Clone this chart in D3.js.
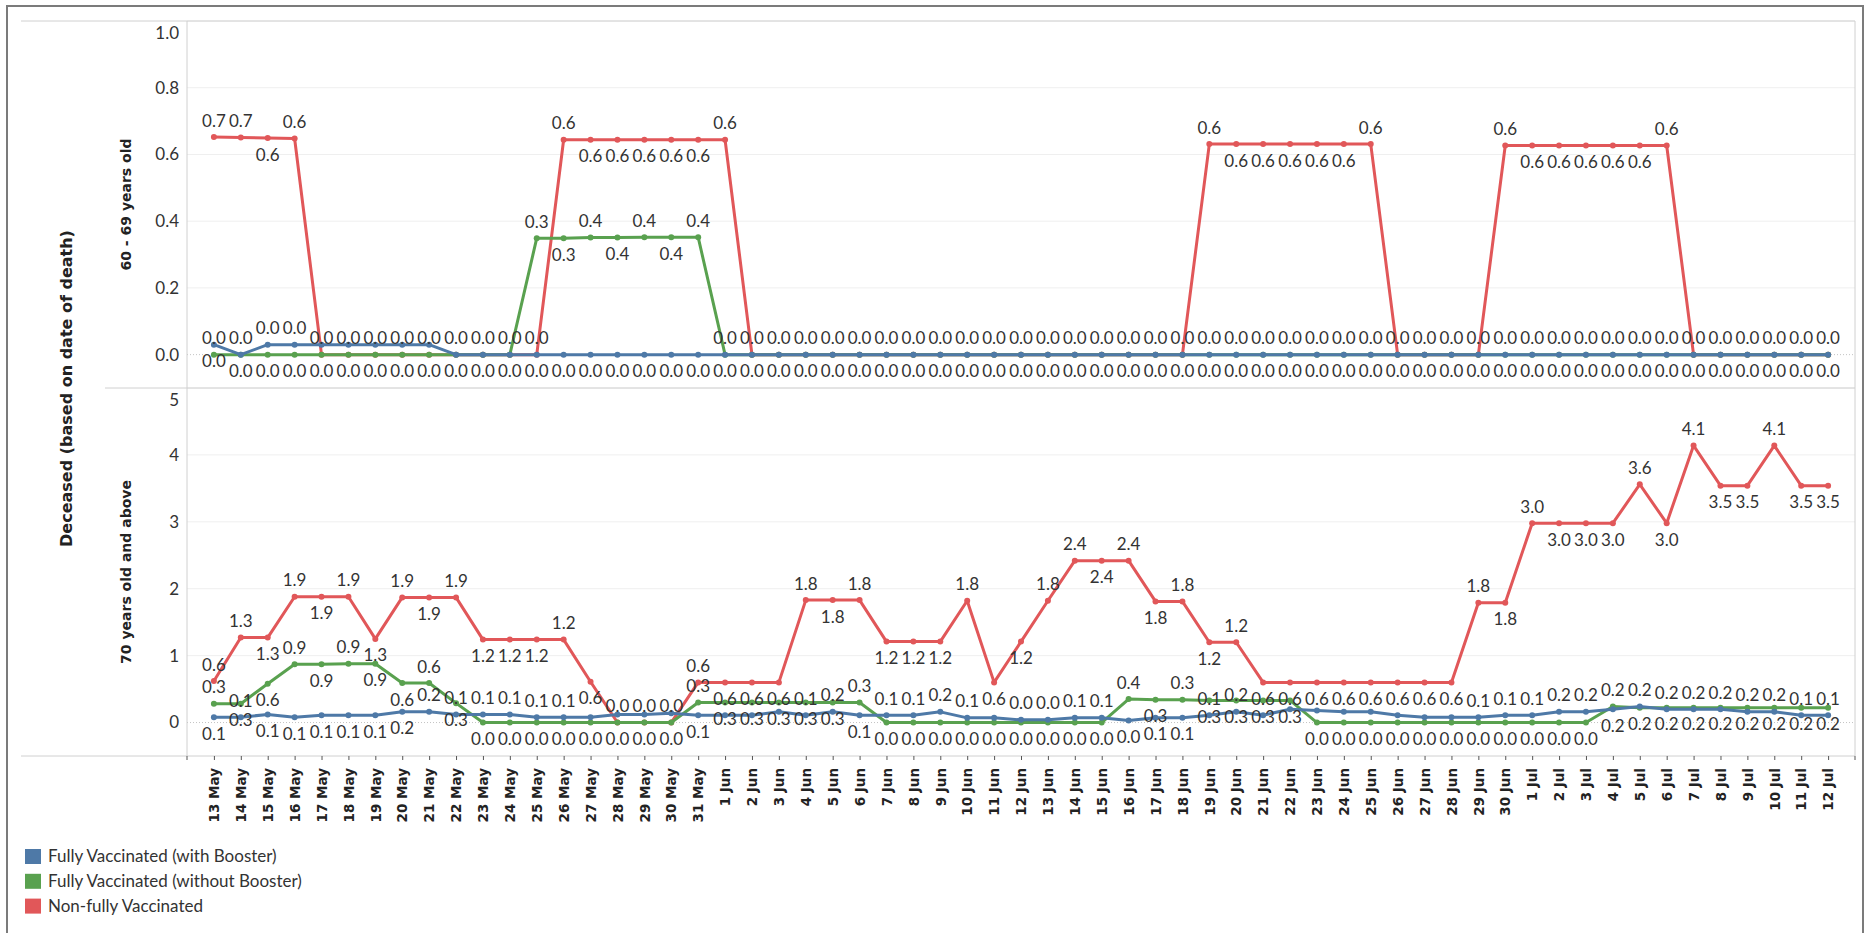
<!DOCTYPE html>
<html>
<head>
<meta charset="utf-8">
<script src="https://cdn.jsdelivr.net/npm/d3@7"></script>
<style>
  body { margin: 0; background: #fff; }
  svg { display: block; }
</style>
</head>
<body>
<svg id="chart" width="1869" height="933"></svg>
<script>
// day labels on the x axis
var dates = [
  "13 May","14 May","15 May","16 May","17 May","18 May","19 May","20 May","21 May","22 May",
  "23 May","24 May","25 May","26 May","27 May","28 May","29 May","30 May","31 May",
  "1 Jun","2 Jun","3 Jun","4 Jun","5 Jun","6 Jun","7 Jun","8 Jun","9 Jun","10 Jun",
  "11 Jun","12 Jun","13 Jun","14 Jun","15 Jun","16 Jun","17 Jun","18 Jun","19 Jun","20 Jun",
  "21 Jun","22 Jun","23 Jun","24 Jun","25 Jun","26 Jun","27 Jun","28 Jun","29 Jun","30 Jun",
  "1 Jul","2 Jul","3 Jul","4 Jul","5 Jul","6 Jul","7 Jul","8 Jul","9 Jul","10 Jul","11 Jul","12 Jul"
];

var seriesNames = ["Fully Vaccinated (with Booster)", "Fully Vaccinated (without Booster)", "Non-fully Vaccinated"];

// 60 - 69 years old
var topBooster = [
  0.03,0,0.03,0.03,0.03,0.03,0.03,0.03,0.03,0,0,0,0,0,0,0,0,0,0,
  0,0,0,0,0,0,0,0,0,0,0,0,0,0,0,0,0,0,0,0,0,0,0,0,0,0,0,0,0,0,
  0,0,0,0,0,0,0,0,0,0,0,0
];
var topNoBooster = [
  0,0,0,0,0,0,0,0,0,0,0,0,0.349,0.349,0.351,0.351,0.352,0.352,0.352,
  0,0,0,0,0,0,0,0,0,0,0,0,0,0,0,0,0,0,0,0,0,0,0,0,0,0,0,0,0,0,
  0,0,0,0,0,0,0,0,0,0,0,0
];
var topNonFully = [
  0.652,0.651,0.649,0.648,0,0,0,0,0,0,0,0,0,0.644,0.644,0.644,0.644,0.644,0.644,
  0.644,0,0,0,0,0,0,0,0,0,0,0,0,0,0,0,0,0,0.631,0.631,0.631,0.631,0.631,0.631,0.631,0,0,0,0,0.627,
  0.627,0.627,0.627,0.627,0.627,0.627,0,0,0,0,0,0
];

// 70 years old and above
var botBooster = [
  0.08,0.08,0.12,0.08,0.11,0.11,0.11,0.16,0.16,0.12,0.12,0.12,0.08,0.08,0.08,0.12,0.12,0.14,0.11,
  0.11,0.11,0.16,0.11,0.16,0.11,0.11,0.11,0.16,0.07,0.07,0.04,0.04,0.07,0.07,0.03,0.07,0.07,0.11,0.16,
  0.11,0.2,0.18,0.16,0.16,0.11,0.08,0.08,0.08,0.11,
  0.11,0.16,0.16,0.2,0.24,0.2,0.2,0.2,0.16,0.16,0.11,0.11
];
var botNoBooster = [
  0.28,0.28,0.58,0.87,0.87,0.88,0.88,0.59,0.59,0.29,0,0,0,0,0,0,0,0,0.3,
  0.3,0.3,0.3,0.3,0.3,0.3,0,0,0,0,0,0,0,0,0,0.351,0.34,0.34,0.33,0.33,0.33,0.33,0,0,0,0,0,0,0,0,
  0,0,0,0.24,0.22,0.22,0.22,0.22,0.22,0.22,0.22,0.22
];
var botNonFully = [
  0.62,1.27,1.27,1.88,1.88,1.88,1.25,1.87,1.87,1.87,1.24,1.24,1.24,1.24,0.61,0,0,0,0.6,
  0.6,0.6,0.6,1.83,1.83,1.83,1.21,1.21,1.21,1.82,0.6,1.21,1.82,2.42,2.42,2.42,1.81,1.81,1.2,1.2,
  0.6,0.6,0.6,0.6,0.6,0.6,0.6,0.6,1.79,1.79,
  2.98,2.98,2.98,2.98,3.56,2.98,4.14,3.54,3.54,4.14,3.54,3.54
];

var topTicks = [0, 0.2, 0.4, 0.6, 0.8, 1.0];
var botTicks = [0, 1, 2, 3, 4, 5];

var colors = ["#4e79a7", "#59a14f", "#e15759"];

var svg = d3.select("#chart");
var plotLeft = 187, plotRight = 1855;
var topY0 = 21, midY = 388, botY1 = 756;

var x = d3.scalePoint().domain(dates).range([plotLeft, plotRight]).padding(1);
var yTop = d3.scaleLinear().domain([-0.1, 1.0]).range([midY, topY0]);
var yBot = d3.scaleLinear().domain([-0.5, 5]).range([botY1, midY]);

var labelFont = "Lato, 'Open Sans', sans-serif";

// outer frame
svg.append("path")
  .attr("d", "M7,933 V6 H1863 V933")
  .attr("fill", "none")
  .attr("stroke", "#7b7b7b")
  .attr("stroke-width", 2);

var panels = [
  { y: yTop, ticks: topTicks, fmt: d3.format(".1f"), title: "60 - 69 years old",
    data: [topBooster, topNoBooster, topNonFully] },
  { y: yBot, ticks: botTicks, fmt: d3.format("d"), title: "70 years old and above",
    data: [botBooster, botNoBooster, botNonFully] }
];

panels.forEach(function(p) {
  var g = svg.append("g");
  var r = p.y.range();
  // gridlines
  g.selectAll(".grid").data(p.ticks).enter().append("line")
    .attr("x1", plotLeft).attr("x2", plotRight)
    .attr("y1", function(d) { return p.y(d); })
    .attr("y2", function(d) { return p.y(d); })
    .attr("stroke", function(d) { return d === 0 ? "none" : "#efefef"; })
    .attr("stroke-width", 1);
  // dotted zero line
  g.append("line")
    .attr("x1", plotLeft).attr("x2", plotRight)
    .attr("y1", p.y(0)).attr("y2", p.y(0))
    .attr("stroke", "#c4c4c4").attr("stroke-dasharray", "1,2");
  // tick labels
  g.selectAll(".tl").data(p.ticks).enter().append("text")
    .attr("x", 179)
    .attr("y", function(d) {
      var yy = p.y(d);
      return Math.abs(yy - r[1]) < 2 ? yy + 12 : yy;
    })
    .attr("dy", "0.35em")
    .attr("text-anchor", "end")
    .style("font-family", labelFont)
    .style("font-size", "17px")
    .style("fill", "#333")
    .text(function(d) { return p.fmt(d); });
  // row title
  g.append("text")
    .attr("transform", "translate(126.5," + ((r[0] + r[1]) / 2) + ") rotate(-90)")
    .attr("dy", "0.35em")
    .attr("text-anchor", "middle")
    .style("font-family", "'DejaVu Sans', sans-serif")
    .style("font-weight", "bold")
    .style("font-size", "14px")
    .style("fill", "#222")
    .text(p.title);
});

// panel borders
svg.append("line").attr("x1", 21).attr("x2", plotRight).attr("y1", topY0).attr("y2", topY0)
  .attr("stroke", "#d0d0d0");
svg.append("line").attr("x1", 105).attr("x2", plotRight).attr("y1", midY).attr("y2", midY)
  .attr("stroke", "#d0d0d0");
svg.append("line").attr("x1", 21).attr("x2", plotRight).attr("y1", botY1).attr("y2", botY1)
  .attr("stroke", "#d0d0d0");
svg.append("line").attr("x1", plotLeft).attr("x2", plotLeft).attr("y1", topY0).attr("y2", botY1)
  .attr("stroke", "#d0d0d0");
svg.append("line").attr("x1", plotRight).attr("x2", plotRight).attr("y1", topY0).attr("y2", botY1)
  .attr("stroke", "#d0d0d0");

// outer axis title
svg.append("text")
  .attr("transform", "translate(66," + ((topY0 + botY1) / 2) + ") rotate(-90)")
  .attr("dy", "0.35em")
  .attr("text-anchor", "middle")
  .style("font-family", "'DejaVu Sans', sans-serif")
  .style("font-weight", "bold")
  .style("font-size", "16px")
  .style("fill", "#222")
  .text("Deceased (based on date of death)");

// x axis
var xAxis = svg.append("g")
  .attr("transform", "translate(0," + botY1 + ")")
  .call(d3.axisBottom(x).tickSize(4).tickSizeOuter(0));
xAxis.select(".domain").remove();
xAxis.selectAll(".tick line").attr("stroke", "#555");
xAxis.selectAll(".tick text")
  .attr("transform", "rotate(-90)")
  .attr("x", -12)
  .attr("y", 0)
  .attr("dy", "0.35em")
  .attr("text-anchor", "end")
  .style("font-family", "'DejaVu Sans', sans-serif")
  .style("font-weight", "bold")
  .style("font-size", "13.5px")
  .style("fill", "#222");
// end ticks at the axis edges
xAxis.selectAll(".edge").data(x.range()).enter().append("line")
  .attr("x1", function(d) { return d; }).attr("x2", function(d) { return d; })
  .attr("y1", 0).attr("y2", 4)
  .attr("stroke", "#555");

// lines, points and labels
var placed = [];
function hits(b) {
  return placed.some(function(q) {
    return b.x0 < q.x1 && b.x1 > q.x0 && b.y0 < q.y1 && b.y1 > q.y0;
  });
}
function preferAbove(vals, i) {
  var v = vals[i];
  if (i === 0) return true;
  if (i === vals.length - 1) return v > vals[i - 1];
  var avg = (vals[i - 1] + vals[i + 1]) / 2;
  if (v > avg + 1e-9) return true;
  return false;
}

var line = d3.line();
var labelLayer = svg.append("g");

panels.forEach(function(p) {
  var g = svg.append("g");
  [2, 1, 0].forEach(function(s) {
    var vals = p.data[s];
    var pts = vals.map(function(v, i) { return [x(dates[i]), p.y(v)]; });
    g.append("path")
      .attr("d", line(pts))
      .attr("fill", "none")
      .attr("stroke", colors[s])
      .attr("stroke-width", 3)
      .attr("stroke-linejoin", "round");
    g.selectAll(".pt" + s).data(pts).enter().append("circle")
      .attr("cx", function(d) { return d[0]; })
      .attr("cy", function(d) { return d[1]; })
      .attr("r", 3)
      .attr("fill", colors[s]);
  });
  // labels: red first, then green, then blue
  [2, 1, 0].forEach(function(s) {
    var vals = p.data[s];
    vals.forEach(function(v, i) {
      var cx = x(dates[i]), cy = p.y(v);
      var t = labelLayer.append("text")
        .attr("text-anchor", "middle")
        .attr("dy", "0.35em")
        .style("font-family", labelFont)
        .style("font-size", "17px")
        .style("fill", "#333")
        .text(v.toFixed(1));
      var w = t.node().getComputedTextLength();
      var sides = preferAbove(vals, i) ? [-16.5, 16.5] : [16.5, -16.5];
      var done = false;
      for (var k = 0; k < 2 && !done; k++) {
        var ly = cy + sides[k];
        var b = { x0: cx - w / 2, x1: cx + w / 2, y0: ly - 9, y1: ly + 9 };
        if (!hits(b)) {
          placed.push(b);
          t.attr("x", cx).attr("y", ly);
          done = true;
        }
      }
      if (!done) t.remove();
    });
  });
});
labelLayer.raise();

// legend
var legend = svg.append("g").attr("transform", "translate(25,849)");
seriesNames.forEach(function(name, i) {
  var row = legend.append("g").attr("transform", "translate(0," + (i * 24.8) + ")");
  row.append("rect").attr("width", 16).attr("height", 15).attr("fill", colors[i]);
  row.append("text")
    .attr("x", 23).attr("y", 7.5).attr("dy", "0.35em")
    .style("font-family", labelFont)
    .style("font-size", "17px")
    .style("fill", "#333")
    .text(name);
});
</script>
</body>
</html>
